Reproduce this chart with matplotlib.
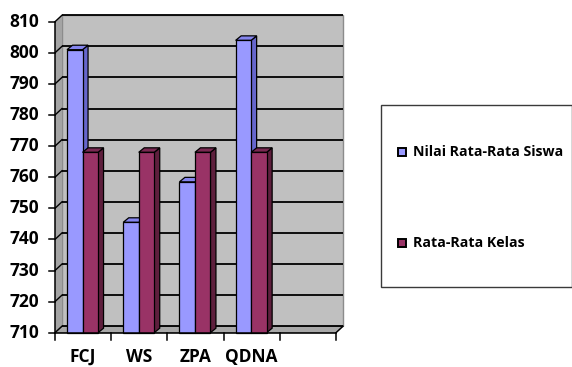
import matplotlib
matplotlib.use("Agg")
import matplotlib.pyplot as plt
from matplotlib.patches import Polygon, Rectangle

categories = ["FCJ", "WS", "ZPA", "QDNA", ""]
nilai_siswa = [801, 745.5, 758.5, 804]
rata_kelas = [768, 768, 768, 768]
series_names = ["Nilai Rata-Rata Siswa", "Rata-Rata Kelas"]
y_ticks = [710, 720, 730, 740, 750, 760, 770, 780, 790, 800, 810]

W, H = 572, 367
fig = plt.figure(figsize=(W / 100, H / 100), dpi=100)
fig.patch.set_facecolor("white")

# plot box in pixels
px_left, px_right = 55, 336
px_top, px_bottom = 21.7, 332.7
ax = fig.add_axes([px_left / W, 1 - px_bottom / H,
                   (px_right - px_left) / W, (px_bottom - px_top) / H])
ymin, ymax = 710, 810
nslots = len(categories)
ax.set_xlim(0, nslots)
ax.set_ylim(ymin, ymax)
ax.axis("off")

ux = (px_right - px_left) / nslots     # pixels per category unit
uy = (px_bottom - px_top) / (ymax - ymin)  # pixels per value unit

# depth of the wall and of the bars (pixels -> data)
dxw, dyw = 7 / ux, 6.5 / uy
dxb, dyb = 5.5 / ux, 4.5 / uy

def poly(pts, fc, ec="none", lw=0.0, z=1):
    ax.add_patch(Polygon(pts, closed=True, facecolor=fc, edgecolor=ec,
                         linewidth=lw, clip_on=False, zorder=z,
                         joinstyle="miter"))

# back wall
poly([(dxw, ymin + dyw), (nslots + dxw, ymin + dyw),
      (nslots + dxw, ymax + dyw), (dxw, ymax + dyw)],
     "#C0C0C0", ec="#8C8C8C", lw=1.0, z=1)
# side wall
poly([(0, ymin), (dxw, ymin + dyw), (dxw, ymax + dyw), (0, ymax)],
     "#A4A4A4", z=1)
# floor
poly([(0, ymin), (nslots, ymin), (nslots + dxw, ymin + dyw), (dxw, ymin + dyw)],
     "#A8A8A8", ec="#6E6E6E", lw=0.8, z=1)

# gridlines on the wall and side wall
for v in y_ticks:
    ax.plot([dxw, nslots + dxw], [v + dyw, v + dyw], color="black", lw=1.3,
            solid_capstyle="butt", clip_on=False, zorder=2)
    ax.plot([0, dxw], [v, v + dyw], color="black", lw=1.0,
            clip_on=False, zorder=2)

# bars
bar_w = 15.5 / ux
styles = [
    ("#9999FF", "#6666CC", "#8585EE"),
    ("#993366", "#5E1F3D", "#7A2952"),
]
z = 3
for i in range(len(nilai_siswa)):
    c = i + 0.49
    for k, vals in enumerate([nilai_siswa, rata_kelas]):
        v = vals[i]
        x0 = c - bar_w + k * bar_w
        x1 = x0 + bar_w
        front, side, top = styles[k]
        poly([(x1, ymin), (x1 + dxb, ymin + dyb), (x1 + dxb, v + dyb), (x1, v)],
             side, ec="black", lw=0.9, z=z)
        poly([(x0, v), (x1, v), (x1 + dxb, v + dyb), (x0 + dxb, v + dyb)],
             top, ec="black", lw=0.9, z=z)
        ax.add_patch(Rectangle((x0, ymin), bar_w, v - ymin, facecolor=front,
                               edgecolor="black", linewidth=0.9, clip_on=False,
                               zorder=z + 0.5))
        z += 1

# axes lines and ticks
tick_font = dict(family=["Open Sans", "DejaVu Sans"], fontweight="bold",
                 fontsize=12.5, color="black")
ax.plot([0, 0], [ymin, ymax], color="black", lw=1.1, clip_on=False, zorder=20)
ax.plot([0, nslots], [ymin, ymin], color="black", lw=1.1, clip_on=False, zorder=20)
ax.plot([nslots, nslots + dxw], [ymin, ymin + dyw], color="black", lw=1.0,
        clip_on=False, zorder=20)
for v in y_ticks:
    ax.plot([-6 / ux, 0], [v, v], color="black", lw=1.1, clip_on=False, zorder=20)
    ax.text(-16 / ux, v, str(v), ha="right", va="center", **tick_font)
for i in range(nslots + 1):
    ax.plot([i, i], [ymin, ymin - 7 / uy], color="black", lw=1.1,
            clip_on=False, zorder=20)
for i, name in enumerate(categories):
    if name:
        fig.text((px_left + (i + 0.5) * ux) / W, 1 - 366 / H, name,
                 ha="center", va="bottom", **tick_font)

# legend box
lx0, lx1, ly0, ly1 = 381, 572, 105, 287
fig.patches.append(Rectangle((lx0 / W, 1 - ly1 / H), (lx1 - lx0) / W,
                             (ly1 - ly0) / H, transform=fig.transFigure,
                             facecolor="white", edgecolor="#3A3A3A",
                             linewidth=1.0))
for name, (front, _, _), yc in zip(series_names, styles, [152, 243]):
    s = 8
    fig.patches.append(Rectangle((398 / W, 1 - (yc + s / 2) / H), s / W, s / H,
                                 transform=fig.transFigure, facecolor=front,
                                 edgecolor="black", linewidth=1.4))
    fig.text(413 / W, 1 - yc / H, name, ha="left", va="center",
             family=["Open Sans", "DejaVu Sans"], fontweight="bold",
             fontsize=10.2, color="black")

fig.savefig("out.png", dpi=100, facecolor="white")
